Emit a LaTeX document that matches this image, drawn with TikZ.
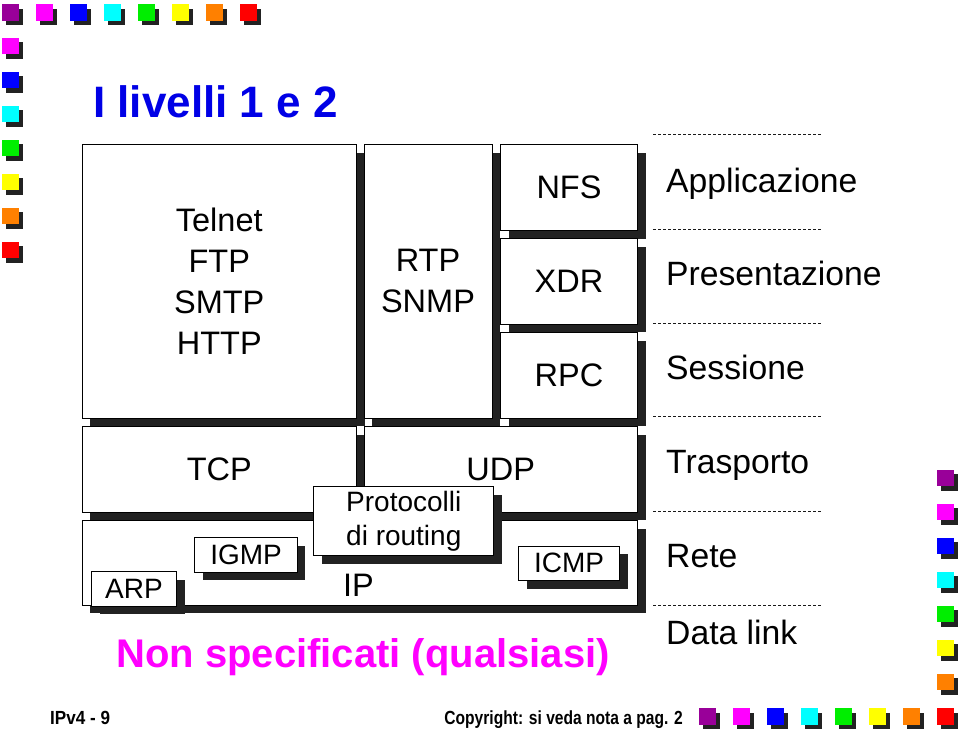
\documentclass[tikz,border=0pt]{standalone}
\usepackage{fontspec}
\setmainfont{Liberation Sans}
\usetikzlibrary{shadows}
\definecolor{shd}{HTML}{222222}
\definecolor{cpurple}{HTML}{990099}
\definecolor{cmagenta}{HTML}{FF00FF}
\definecolor{cblue}{HTML}{0000FF}
\definecolor{ccyan}{HTML}{00FFFF}
\definecolor{cgreen}{HTML}{00EE00}
\definecolor{cyellow}{HTML}{FFFF00}
\definecolor{corange}{HTML}{FF8000}
\definecolor{cred}{HTML}{FF0000}
\definecolor{ctitle}{HTML}{0000E6}
\definecolor{cnonspec}{HTML}{FF00FF}
\tikzset{
  layerbox/.style={draw=black, line width=1pt, fill=white, inner sep=0pt, anchor=north west,
    align=center, font=\fontsize{32.5}{41}\selectfont,
    drop shadow={opacity=1, fill=shd, shadow xshift=8pt, shadow yshift=-8pt}},
  smallbox/.style={layerbox, font=\fontsize{28}{34}\selectfont},
  deco/.style={minimum size=16.7pt, inner sep=0pt, anchor=north west, fill=#1,
    drop shadow={opacity=1, fill=shd, shadow xshift=4.4pt, shadow yshift=-4.4pt}},
  osilabel/.style={anchor=base west, inner sep=0pt, font=\fontsize{33.7}{40}\selectfont},
  dashline/.style={line width=1pt, black!90, dash pattern=on 3pt off 2pt},
  footer/.style={inner sep=0pt, font=\fontsize{19}{22}\bfseries\selectfont}
}
\begin{document}
\begin{tikzpicture}[x=1pt,y=-1pt]
\useasboundingbox[fill=white] (0,0) rectangle (960,731);

% decorative squares
\foreach \c [count=\i from 0] in {cpurple,cmagenta,cblue,ccyan,cgreen,cyellow,corange,cred}
  \node[deco=\c] (top\i) at ({1.7+34*\i},4) {};
\foreach \c [count=\i from 1] in {cmagenta,cblue,ccyan,cgreen,cyellow,corange,cred}
  \node[deco=\c] (left\i) at (1.7,{3.5+34*\i}) {};
\foreach \c [count=\i from 0] in {cpurple,cmagenta,cblue,ccyan,cgreen,cyellow,corange}
  \node[deco=\c] (right\i) at (936.7,{469.3+34*\i}) {};
\foreach \c [count=\i from 0] in {cpurple,cmagenta,cblue,ccyan,cgreen,cyellow,corange,cred}
  \node[deco=\c] (bot\i) at ({698.7+34*\i},708) {};

% title
\node[anchor=base west, inner sep=0pt, text=ctitle, font=\fontsize{44}{50}\bfseries\selectfont] (title) at (93,117) {I livelli 1 e 2};

% upper layer boxes
\node[layerbox, minimum width=274.5pt, minimum height=273.5pt] (app) at (81.5,144) {Telnet\\FTP\\SMTP\\HTTP};
\node[layerbox, minimum width=128pt, minimum height=273.5pt] (rtp) at (363.5,144) {RTP\\SNMP};
\node[layerbox, minimum width=137pt, minimum height=86pt] (nfs) at (500,144) {NFS};
\node[layerbox, minimum width=137pt, minimum height=85.5pt] (xdr) at (500,238) {XDR};
\node[layerbox, minimum width=137pt, minimum height=85.5pt] (rpc) at (500,332) {RPC};

% transport
\node[layerbox, minimum width=274.5pt, minimum height=85.5pt] (tcp) at (81.5,426) {TCP};
\node[layerbox, minimum width=273.5pt, minimum height=85.5pt] (udp) at (363.5,426) {UDP};

% network
\node[layerbox, minimum width=555.5pt, minimum height=84.5pt] (ip) at (81.5,520) {};
\node[anchor=west, inner sep=0pt, font=\fontsize{32.5}{41}\selectfont] (iplabel) at (343,585) {IP};

% small boxes
\node[smallbox, minimum width=180pt, minimum height=69pt] (routing) at (313.3,486) {Protocolli\\di routing};
\node[smallbox, minimum width=102.5pt, minimum height=34.5pt] (igmp) at (194.3,537.3) {IGMP};
\node[smallbox, minimum width=100.7pt, minimum height=34.3pt] (icmp) at (518.3,545.7) {ICMP};
\node[smallbox, minimum width=85pt, minimum height=34.7pt] (arp) at (91,571) {ARP};

% OSI dashed separators
\foreach \y in {134.5,229,323,416.5,511,605}
  \draw[dashline] (653,\y) -- (822,\y);

% OSI labels
\node[osilabel] (l7) at (666,192) {Applicazione};
\node[osilabel] (l6) at (666,285.5) {Presentazione};
\node[osilabel] (l5) at (666,379) {Sessione};
\node[osilabel] (l4) at (666,473) {Trasporto};
\node[osilabel] (l3) at (666,567) {Rete};
\node[osilabel] (l2) at (666,644) {Data link};

% non specificati
\node[anchor=base, inner sep=0pt, text=cnonspec, font=\fontsize{40}{46}\bfseries\selectfont] (nonspec) at (363,667) {Non specificati (qualsiasi)};

% footer
\node[footer, anchor=base west] (pagenum) at (50,724) {\scalebox{0.9}[1]{IPv4 - 9}};
\node[footer, anchor=base east] (copyright) at (683,724) {\scalebox{0.82}[1]{Copyright: si veda nota a pag. 2}};
\end{tikzpicture}
\end{document}
